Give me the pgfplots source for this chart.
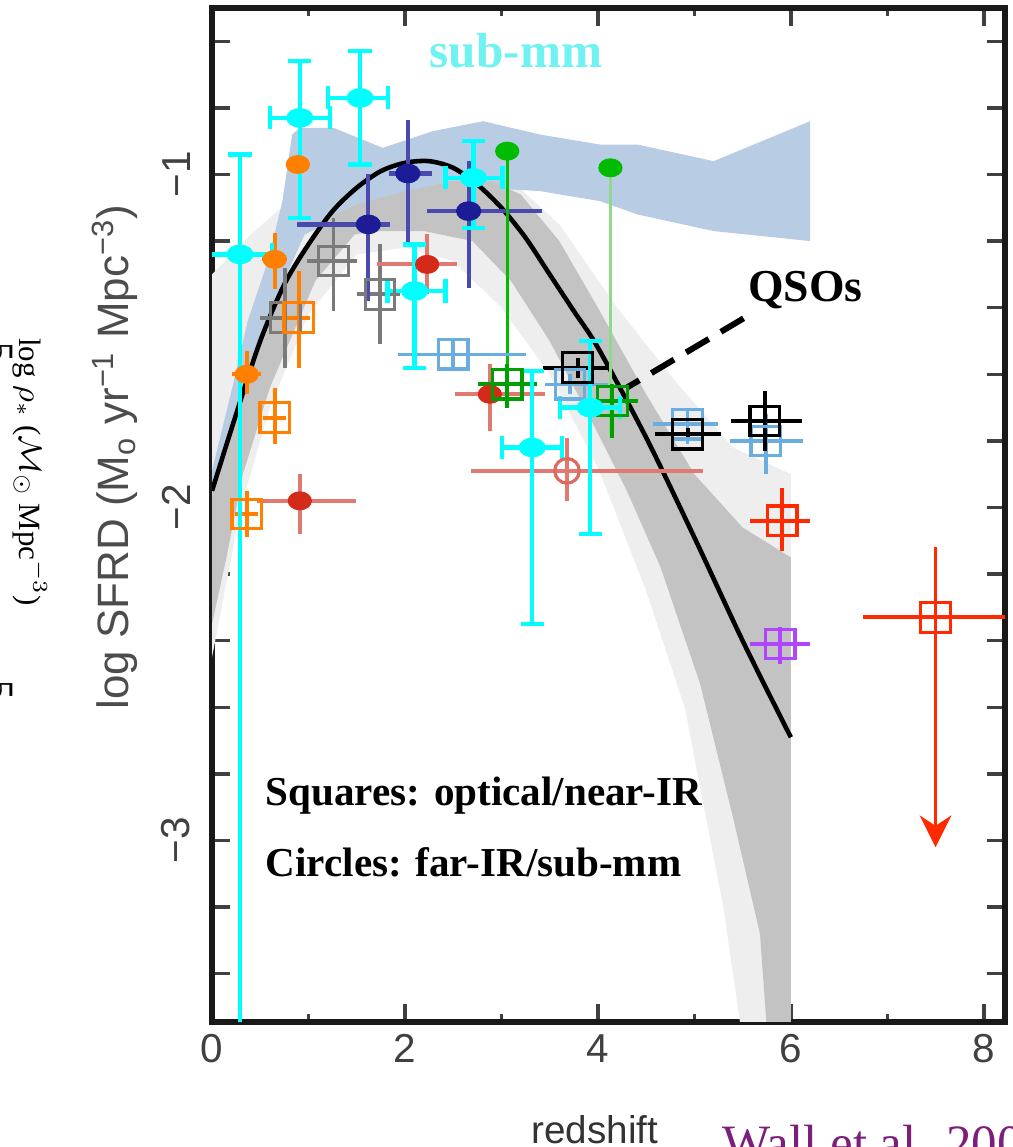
\documentclass[border=0pt]{standalone}
\usepackage{fontspec}
\setmainfont{Liberation Serif}
\setsansfont{Liberation Sans}
\usepackage{pgfplots}
\pgfplotsset{compat=1.18}
\usetikzlibrary{arrows.meta}
\definecolor{cy}{HTML}{00FFFF}
\definecolor{navy}{HTML}{1C1C96}
\definecolor{navybar}{HTML}{4A4AAE}
\definecolor{org}{HTML}{FF8000}
\definecolor{grsq}{HTML}{7A7A7A}
\definecolor{redc}{HTML}{D42A1A}
\definecolor{redbar}{HTML}{E07A70}
\definecolor{grn}{HTML}{00BB00}
\definecolor{grnlt}{HTML}{8ED98E}
\definecolor{stb}{HTML}{6AAEE0}
\definecolor{rsq}{HTML}{FF2A00}
\definecolor{purp}{HTML}{B044FF}
\definecolor{band}{HTML}{B8CCE4}
\definecolor{fringe}{HTML}{EEEEEE}
\definecolor{core}{HTML}{C3C3C3}
\definecolor{subcy}{HTML}{6EF2F2}
\definecolor{wallp}{HTML}{7B1F7B}
\begin{document}
\begin{tikzpicture}
\path[use as bounding box] (-2.12cm,-1.25cm) rectangle (8.00cm,10.22cm);
\begin{axis}[
  at={(0,0)}, anchor=south west,
  scale only axis, width=7.93cm, height=10.14cm,
  xmin=0, xmax=8.22, ymin=-3.545, ymax=-0.5,
  xtick={0,2,4,6,8}, minor xtick={1,3,5,7},
  ytick={-3.4,-3.2,-3.0,-2.8,-2.6,-2.4,-2.2,-2.0,-1.8,-1.6,-1.4,-1.2,-1.0,-0.8,-0.6},
  yticklabels={{},{},−3,{},{},{},{},−2,{},{},{},{},−1,{},{}},
  major tick length=0.18cm, minor tick length=0.08cm,
  axis line style={line width=1.6pt, black!90},
  tick style={line width=1pt, black!75},
  /pgf/number format/assume math mode=true,
  ticklabel style={font=\sffamily\fontsize{11.5}{13}\selectfont, text=black!75},
  yticklabel style={rotate=90, anchor=south, inner sep=6pt},
  clip=true,
]
% fits fringe
\addplot[fill=fringe, draw=none] coordinates {
 (0,-1.3) (0.4,-1.18) (0.8,-1.08) (1.5,-1.0) (2.3,-0.97) (3.0,-0.99) (3.6,-1.15) (4.2,-1.4) (4.8,-1.62) (5.4,-1.82) (6.0,-1.9)
 (6.0,-3.6) (5.5,-3.6) (5.3,-3.2) (4.9,-2.6) (4.5,-2.25) (4.0,-1.88) (3.5,-1.6) (3.0,-1.4) (2.5,-1.26) (2.0,-1.22) (1.5,-1.24) (1.0,-1.42) (0.6,-1.7) (0.3,-2.0) (0.1,-2.3) (0,-2.45)};
% sub-mm band
\addplot[fill=band, draw=none] coordinates {
 (0,-1.89) (0.21,-1.64) (0.37,-1.44) (0.58,-1.26) (0.73,-1.08) (0.83,-0.88) (0.91,-0.86) (1.26,-0.86) (1.77,-0.92) (2.29,-0.87) (2.81,-0.84) (3.40,-0.88) (4.02,-0.91) (4.41,-0.91) (5.20,-0.96) (6.20,-0.84)
 (6.20,-1.20) (5.20,-1.17) (4.41,-1.12) (4.02,-1.08) (3.40,-1.05) (2.81,-1.04) (2.29,-1.08) (1.77,-1.11) (1.26,-1.14) (0.96,-1.18) (0.79,-1.29) (0.62,-1.46) (0.45,-1.64) (0.21,-1.89) (0.03,-2.10) (0,-2.11)};
% fits core
\addplot[fill=core, draw=none] coordinates {
 (0,-1.97) (0.3,-1.68) (0.6,-1.42) (0.9,-1.24) (1.2,-1.13) (1.5,-1.09) (2.0,-1.05) (2.5,-1.02) (2.9,-1.02) (3.2,-1.06) (3.6,-1.20) (4.0,-1.40) (4.5,-1.66) (5.0,-1.9) (5.5,-2.06) (6.0,-2.15)
 (6.0,-3.6) (5.76,-3.6) (5.68,-3.28) (5.4,-2.93) (5.06,-2.53) (4.65,-2.18) (4.3,-1.95) (3.9,-1.72) (3.5,-1.5) (3.1,-1.32) (2.7,-1.2) (2.2,-1.17) (1.7,-1.17) (1.48,-1.18) (1.07,-1.32) (0.6,-1.64) (0.32,-1.9) (0.15,-2.15) (0,-2.35)};
% best fit
\addplot[black, line width=1.3pt, smooth] coordinates {
 (0,-1.95) (0.25,-1.72) (0.5,-1.50) (0.75,-1.33) (1.0,-1.21) (1.25,-1.11) (1.5,-1.04) (1.75,-0.99) (2.0,-0.965) (2.25,-0.96) (2.5,-0.98) (2.75,-1.03) (3.0,-1.10) (3.25,-1.19) (3.5,-1.30) (3.75,-1.41) (4.0,-1.52) (4.5,-1.79) (5.0,-2.09) (5.5,-2.40) (6.0,-2.69)};
% gray squares
\addplot[only marks, mark=square, mark size=4.2pt, grsq, mark options={line width=0.9pt},
  error bars/.cd, x dir=both, y dir=both, x explicit, y explicit, error mark=none,
  error bar style={line width=1.1pt, grsq}] coordinates {
 (1.26,-1.26) += (0.24,0.13) -= (0.28,0.15)
 (0.76,-1.43) += (0.26,0.15) -= (0.26,0.15)
 (1.74,-1.36) += (0.21,0.15) -= (0.24,0.15)};
% orange squares
\addplot[only marks, mark=square, mark size=4.2pt, org, mark options={line width=0.9pt},
  error bars/.cd, x dir=both, y dir=both, x explicit, y explicit, error mark=none,
  error bar style={line width=1.1pt, org}] coordinates {
 (0.9,-1.43) += (0.12,0.14) -= (0.12,0.15)
 (0.65,-1.73) += (0.12,0.09) -= (0.12,0.08)
 (0.36,-2.02) += (0.12,0.07) -= (0.12,0.07)};
% orange circles
\addplot[only marks, mark=*, mark size=2.5pt, org, mark options={xscale=1.3},
  error bars/.cd, x dir=both, y dir=both, x explicit, y explicit, error mark=none,
  error bar style={line width=1.1pt, org}] coordinates {
 (0.89,-0.97) += (0.12,0) -= (0.12,0)
 (0.65,-1.255) += (0.13,0.08) -= (0.13,0.09)
 (0.36,-1.6) += (0.15,0.07) -= (0.15,0.06)};
% red filled circles
\addplot[only marks, mark=*, mark size=2.5pt, redc, mark options={xscale=1.3},
  error bars/.cd, x dir=both, y dir=both, x explicit, y explicit, error mark=none,
  error bar style={line width=1.1pt, redbar}] coordinates {
 (0.91,-1.98) += (0.58,0.08) -= (0.44,0.10)
 (2.23,-1.27) += (0.31,0.09) -= (0.52,0.09)
 (2.88,-1.66) += (0.57,0.09) -= (0.36,0.11)};
% red open circle
\addplot[only marks, mark=o, mark size=3.5pt, redbar!80!redc, mark options={line width=0.9pt},
  error bars/.cd, x dir=both, y dir=both, x explicit, y explicit, error mark=none,
  error bar style={line width=1.1pt, redbar}] coordinates {
 (3.68,-1.89) += (1.41,0.10) -= (1.0,0.09)};
% navy circles
\addplot[only marks, mark=*, mark size=2.6pt, navy, mark options={xscale=1.3},
  error bars/.cd, x dir=both, y dir=both, x explicit, y explicit, error mark=none,
  error bar style={line width=1.2pt, navybar}] coordinates {
 (1.62,-1.15) += (0.23,0.15) -= (0.74,0.23)
 (2.03,-0.997) += (0.25,0.16) -= (0.2,0.22)
 (2.66,-1.11) += (0.76,0.15) -= (0.43,0.23)};
% green circles (long bars)
\addplot[only marks, mark=*, mark size=2.5pt, grn, mark options={xscale=1.3},
  error bars/.cd, y dir=minus, y explicit, error mark=none,
  error bar style={line width=0.9pt, grn}] coordinates {
 (3.06,-0.93) -= (0,0.77)};
\addplot[only marks, mark=*, mark size=2.5pt, grn, mark options={xscale=1.3},
  error bars/.cd, y dir=minus, y explicit, error mark=none,
  error bar style={line width=0.9pt, grnlt}] coordinates {
 (4.13,-0.98) -= (0,0.81)};
% green squares
\addplot[only marks, mark=square, mark size=4.2pt, grn!85!black, mark options={line width=0.9pt},
  error bars/.cd, x dir=both, y dir=both, x explicit, y explicit, error mark=none,
  error bar style={line width=1.1pt, grn!85!black}] coordinates {
 (3.06,-1.63) += (0.31,0.06) -= (0.30,0.07)
 (4.15,-1.68) += (0.27,0.05) -= (0.2,0.11)};
% steel blue squares
\addplot[only marks, mark=square, mark size=4.2pt, stb, mark options={line width=0.9pt},
  error bars/.cd, x dir=both, y dir=both, x explicit, y explicit, error mark=none,
  error bar style={line width=1.0pt, stb}] coordinates {
 (2.5,-1.54) += (0.75,0.05) -= (0.57,0.05)
 (3.71,-1.63) += (0.39,0.03) -= (0.26,0.03)
 (4.93,-1.75) += (0.32,0.05) -= (0.36,0.06)
 (5.74,-1.80) += (0.39,0.08) -= (0.37,0.10)};
% black squares
\addplot[only marks, mark=square, mark size=4.2pt, black, mark options={line width=0.9pt},
  error bars/.cd, x dir=both, y dir=both, x explicit, y explicit, error mark=none,
  error bar style={line width=1.1pt, black}] coordinates {
 (3.79,-1.58) += (0.32,0.03) -= (0.36,0.03)
 (4.93,-1.78) += (0.35,0.02) -= (0.34,0.02)
 (5.73,-1.74) += (0.39,0.09) -= (0.35,0.09)};
% red squares high z
\addplot[only marks, mark=square, mark size=4.2pt, rsq, mark options={line width=0.9pt},
  error bars/.cd, x dir=both, y dir=both, x explicit, y explicit, error mark=none,
  error bar style={line width=1.1pt, rsq}] coordinates {
 (5.91,-2.04) += (0.29,0.10) -= (0.33,0.09)};
\addplot[only marks, mark=square, mark size=4.2pt, rsq, mark options={line width=0.9pt},
  error bars/.cd, x dir=both, x explicit, error mark=none,
  error bar style={line width=1.1pt, rsq}] coordinates {
 (7.5,-2.33) +- (0.75,0)};
\addplot[rsq, line width=1.1pt, -{Stealth[width=9pt,length=9pt]}] coordinates {(7.5,-2.12) (7.5,-3.02)};
% purple square
\addplot[only marks, mark=square, mark size=4.2pt, purp, mark options={line width=0.9pt},
  error bars/.cd, x dir=both, y dir=both, x explicit, y explicit, error mark=none,
  error bar style={line width=1.1pt, purp}] coordinates {
 (5.89,-2.41) += (0.31,0.05) -= (0.31,0.06)};
% cyan circles (capped)
\addplot[only marks, mark=*, mark size=2.6pt, cy, mark options={xscale=1.4},
  error bars/.cd, x dir=both, y dir=both, x explicit, y explicit,
  error bar style={line width=1.2pt, cy},
  error mark options={rotate=90, mark size=3.3pt, line width=1.2pt, cy}] coordinates {
 (0.29,-1.24) += (0.33,0.30) -= (0.33,2.4)
 (0.91,-0.83) += (0.31,0.17) -= (0.31,0.30)
 (1.535,-0.77) += (0.29,0.14) -= (0.33,0.20)
 (2.71,-1.01) += (0.30,0.11) -= (0.29,0.15)
 (2.1,-1.35) += (0.32,0.14) -= (0.28,0.23)
 (3.32,-1.82) += (0.31,0.23) -= (0.31,0.53)
 (3.92,-1.70) += (0.31,0.20) -= (0.31,0.38)};
% QSO pointer
\addplot[black, line width=1.7pt, dash pattern=on 7.5pt off 4pt] coordinates {(5.51,-1.432) (4.30,-1.64)};
\node[font=\bfseries\fontsize{14}{16}\selectfont, text=subcy] at (axis cs:3.15,-0.628) {sub-mm};
\node[font=\bfseries\fontsize{13}{15}\selectfont] at (axis cs:6.15,-1.348) {QSOs};
\node[font=\bfseries\fontsize{11.7}{14}\selectfont, anchor=west, inner sep=0pt] at (axis cs:0.55,-2.865) {Squares: optical/near-IR};
\node[font=\bfseries\fontsize{11.7}{14}\selectfont, anchor=west, inner sep=0pt] at (axis cs:0.55,-3.066) {Circles: far-IR/sub-mm};
\end{axis}
\node[rotate=90, font=\sffamily\fontsize{12.5}{14}\selectfont, text=black!70] at (-0.97cm,5.65cm) {log SFRD (M\textsubscript{o} yr\textsuperscript{−1} Mpc\textsuperscript{−3})};
\node[font=\sffamily\fontsize{11}{13}\selectfont, text=black!80] at (3.83cm,-1.08cm) {redshift};
\node[font=\fontsize{14.5}{16}\selectfont, text=wallp, anchor=base west, inner sep=0pt] at (5.10cm,-1.38cm) {Wall et al. 2008};
\node[rotate=-90, font=\fontsize{8.8}{10}\selectfont] at (-1.82cm,5.5cm) {log $\rho_*$ ($\mathcal{M}_\odot$ Mpc$^{-3}$)};
\node[rotate=-90, font=\fontsize{11}{13}\selectfont] at (-2.12cm,6.70cm) {5};
\node[rotate=-90, font=\fontsize{11}{13}\selectfont] at (-2.12cm,3.32cm) {5};
\end{tikzpicture}
\end{document}
